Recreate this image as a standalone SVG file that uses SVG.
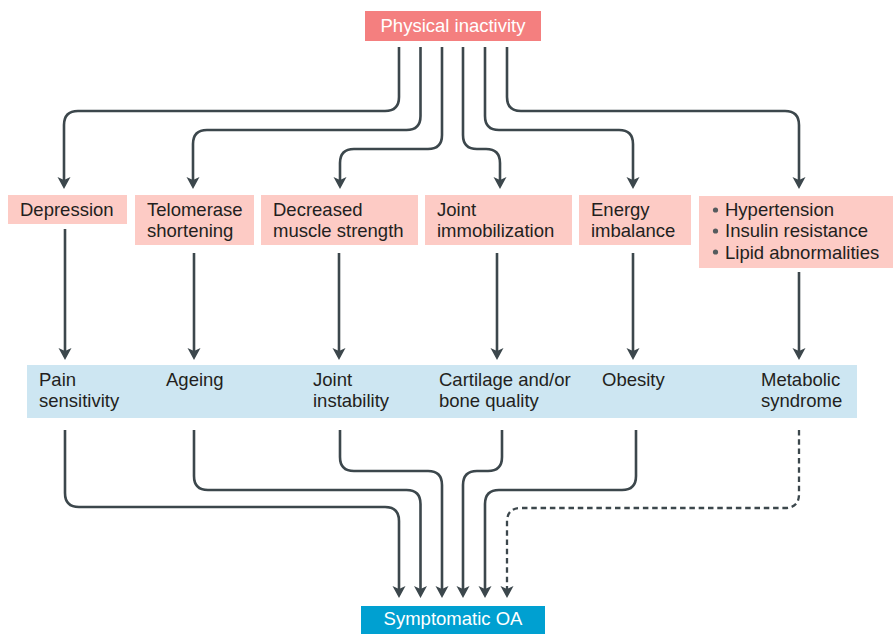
<svg xmlns="http://www.w3.org/2000/svg" width="893" height="634" viewBox="0 0 893 634">
<defs>
<style>
text{font-family:"Liberation Sans",Arial,sans-serif;font-size:18.5px;fill:#231f20}
.w{fill:#ffffff}
.pink{fill:#fdcbc5}
.blue{fill:#cde6f2}
.ln{fill:none;stroke:#3c474c;stroke-width:2.6;marker-end:url(#ah)}
.dash{stroke-dasharray:5.5 3.8;stroke-width:2.3}
</style>
<marker id="ah" viewBox="0 -7 12 14" refX="3" refY="0" markerWidth="12" markerHeight="14" markerUnits="userSpaceOnUse" orient="auto">
<path d="M0,-6.5 L12,0 L0,6.5 L3,0 Z" fill="#3c474c"/>
</marker>
</defs>
<rect width="893" height="634" fill="#ffffff"/>
<g id="connectors">
<path class="ln" d="M399,47 V97 Q399,111 385,111 H78 Q64,111 64,125 V180"/>
<path class="ln" d="M420.5,47 V116 Q420.5,130 406.5,130 H207 Q193,130 193,144 V180"/>
<path class="ln" d="M442,47 V135 Q442,149 428,149 H354 Q340,149 340,163 V180"/>
<path class="ln" d="M463,47 V135 Q463,149 477,149 H486 Q500,149 500,163 V180"/>
<path class="ln" d="M485,47 V116 Q485,130 499,130 H619 Q633,130 633,144 V180"/>
<path class="ln" d="M507,47 V97 Q507,111 521,111 H785 Q799,111 799,125 V180"/>
<path class="ln" d="M65,229 V351"/>
<path class="ln" d="M194,253 V351"/>
<path class="ln" d="M339,253 V351"/>
<path class="ln" d="M497,253 V351"/>
<path class="ln" d="M633,253 V351"/>
<path class="ln" d="M799,272 V351"/>
<path class="ln" d="M65,430 V493 Q65,507 79,507 H385 Q399,507 399,521 V589"/>
<path class="ln" d="M194,430 V476 Q194,490 208,490 H406.5 Q420.5,490 420.5,504 V589"/>
<path class="ln" d="M340,430 V457 Q340,471 354,471 H428 Q442,471 442,485 V589"/>
<path class="ln" d="M502,430 V457 Q502,471 488,471 H477 Q463,471 463,485 V589"/>
<path class="ln" d="M636,430 V476 Q636,490 622,490 H499 Q485,490 485,504 V589"/>
<path class="ln dash" d="M799,430 V494 Q799,508 785,508 H521 Q507,508 507,522 V589"/>
</g>
<g id="physical-inactivity">
<rect x="365" y="11" width="176" height="30" fill="#f47f7f"/>
<text class="w" x="453" y="32" text-anchor="middle">Physical inactivity</text>
</g>
<g id="depression">
<rect class="pink" x="8" y="195" width="119" height="29"/>
<text x="20" y="216">Depression</text>
</g>
<g id="telomerase">
<rect class="pink" x="135" y="195" width="119" height="50"/>
<text x="147" y="216">Telomerase<tspan x="147" dy="21.3">shortening</tspan></text>
</g>
<g id="muscle">
<rect class="pink" x="261" y="195" width="157" height="50"/>
<text x="273" y="216">Decreased<tspan x="273" dy="21.3">muscle strength</tspan></text>
</g>
<g id="immobilization">
<rect class="pink" x="425" y="195" width="147" height="50"/>
<text x="437" y="216">Joint<tspan x="437" dy="21.3">immobilization</tspan></text>
</g>
<g id="energy">
<rect class="pink" x="579" y="195" width="112" height="50"/>
<text x="591" y="216">Energy<tspan x="591" dy="21.3">imbalance</tspan></text>
</g>
<g id="metabolic-factors">
<rect class="pink" x="699" y="196" width="194" height="72"/>
<circle cx="715.5" cy="210" r="2.6" fill="#555b5e"/>
<circle cx="715.5" cy="231" r="2.6" fill="#555b5e"/>
<circle cx="715.5" cy="252" r="2.6" fill="#555b5e"/>
<text x="725" y="216">Hypertension<tspan x="725" dy="21.3">Insulin resistance</tspan><tspan x="725" dy="21.3">Lipid abnormalities</tspan></text>
</g>
<g id="mediators">
<rect class="blue" x="27" y="365" width="830" height="53"/>
<g id="pain"><text x="39" y="386">Pain<tspan x="39" dy="21.3">sensitivity</tspan></text></g>
<g id="ageing"><text x="166" y="386">Ageing</text></g>
<g id="instability"><text x="313" y="386">Joint<tspan x="313" dy="21.3">instability</tspan></text></g>
<g id="cartilage"><text x="439" y="386">Cartilage and/or<tspan x="439" dy="21.3">bone quality</tspan></text></g>
<g id="obesity"><text x="602" y="386">Obesity</text></g>
<g id="metabolic-syndrome"><text x="761" y="386">Metabolic<tspan x="761" dy="21.3">syndrome</tspan></text></g>
</g>
<g id="symptomatic-oa">
<rect x="361" y="606" width="184" height="28" fill="#00a0d1"/>
<text class="w" x="453" y="625" text-anchor="middle">Symptomatic OA</text>
</g>
</svg>
